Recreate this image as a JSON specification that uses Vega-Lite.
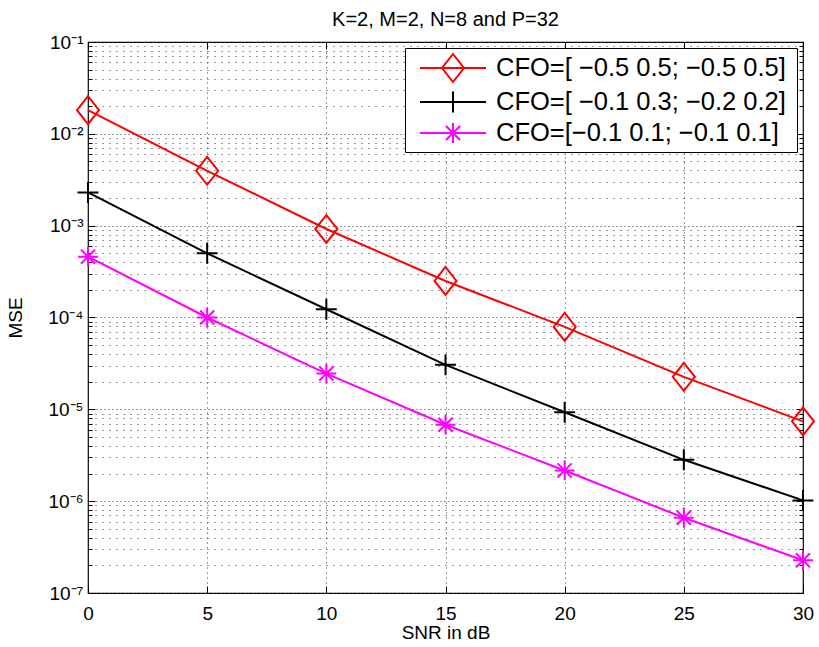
{
  "$schema": "https://vega.github.io/schema/vega-lite/v6.json",
  "autosize": {"type": "none"},
  "width": 715,
  "height": 551,
  "padding": {"left": 88, "top": 42, "right": 16, "bottom": 54},
  "background": "white",
  "title": {"text": "K=2, M=2, N=8 and P=32", "fontSize": 20, "font": "Liberation Sans", "fontWeight": "normal", "color": "#000", "offset": 3},
  "config": {"view": {"stroke": "#000", "strokeWidth": 1.2}, "font": "Liberation Sans"},
  "data": {
    "values": [
      {"snr": 0, "mse": 0.0181, "series": "CFO=[ −0.5 0.5; −0.5 0.5]"},
      {"snr": 5, "mse": 0.00396, "series": "CFO=[ −0.5 0.5; −0.5 0.5]"},
      {"snr": 10, "mse": 0.00092, "series": "CFO=[ −0.5 0.5; −0.5 0.5]"},
      {"snr": 15, "mse": 0.00025, "series": "CFO=[ −0.5 0.5; −0.5 0.5]"},
      {"snr": 20, "mse": 0.000079, "series": "CFO=[ −0.5 0.5; −0.5 0.5]"},
      {"snr": 25, "mse": 0.0000226, "series": "CFO=[ −0.5 0.5; −0.5 0.5]"},
      {"snr": 30, "mse": 0.0000074, "series": "CFO=[ −0.5 0.5; −0.5 0.5]"},
      {"snr": 0, "mse": 0.0023, "series": "CFO=[ −0.1 0.3;  −0.2 0.2]"},
      {"snr": 5, "mse": 0.0005, "series": "CFO=[ −0.1 0.3;  −0.2 0.2]"},
      {"snr": 10, "mse": 0.000123, "series": "CFO=[ −0.1 0.3;  −0.2 0.2]"},
      {"snr": 15, "mse": 0.0000305, "series": "CFO=[ −0.1 0.3;  −0.2 0.2]"},
      {"snr": 20, "mse": 0.0000093, "series": "CFO=[ −0.1 0.3;  −0.2 0.2]"},
      {"snr": 25, "mse": 0.00000282, "series": "CFO=[ −0.1 0.3;  −0.2 0.2]"},
      {"snr": 30, "mse": 0.00000102, "series": "CFO=[ −0.1 0.3;  −0.2 0.2]"},
      {"snr": 0, "mse": 0.00046, "series": "CFO=[−0.1 0.1; −0.1 0.1]"},
      {"snr": 5, "mse": 0.0001, "series": "CFO=[−0.1 0.1; −0.1 0.1]"},
      {"snr": 10, "mse": 0.0000245, "series": "CFO=[−0.1 0.1; −0.1 0.1]"},
      {"snr": 15, "mse": 0.0000068, "series": "CFO=[−0.1 0.1; −0.1 0.1]"},
      {"snr": 20, "mse": 0.00000216, "series": "CFO=[−0.1 0.1; −0.1 0.1]"},
      {"snr": 25, "mse": 0.00000066, "series": "CFO=[−0.1 0.1; −0.1 0.1]"},
      {"snr": 30, "mse": 0.000000227, "series": "CFO=[−0.1 0.1; −0.1 0.1]"}
    ]
  },
  "encoding": {
    "x": {"field": "snr", "type": "quantitative", "scale": {"domain": [0, 30], "nice": false, "zero": false}},
    "y": {"field": "mse", "type": "quantitative", "scale": {"type": "log", "domain": [1e-7, 0.1], "nice": false}},
    "color": {"field": "series", "type": "nominal", "scale": {"domain": ["CFO=[ −0.5 0.5; −0.5 0.5]", "CFO=[ −0.1 0.3;  −0.2 0.2]", "CFO=[−0.1 0.1; −0.1 0.1]"], "range": ["#ff0000", "#000000", "#ff00ff"]}}
  },
  "layer": [
    {
      "mark": {"type": "line", "strokeWidth": 2},
      "encoding": {
        "x": {
          "field": "snr", "type": "quantitative",
          "axis": {
            "orient": "bottom", "values": [0, 5, 10, 15, 20, 25, 30], "format": "d", "labelFlush": false,
            "grid": true, "gridColor": "#333", "gridDash": [1, 4], "gridWidth": 1,
            "domain": false, "tickSize": -7, "tickColor": "#000", "tickWidth": 1,
            "labelFontSize": 19, "labelColor": "#000", "labelPadding": 18, "labelFont": "Liberation Sans",
            "title": "SNR in dB", "titleFontSize": 19, "titleFontWeight": "normal", "titleColor": "#000", "titleFont": "Liberation Sans", "titlePadding": 0
          }
        },
        "y": {
          "field": "mse", "type": "quantitative",
          "axis": {
            "orient": "left", "labelFlush": false,
            "values": [1e-7, 2e-7, 3e-7, 4e-7, 5e-7, 6e-7, 7e-7, 8e-7, 9e-7, 1e-6, 2e-6, 3e-6, 4e-6, 5e-6, 6e-6, 7e-6, 8e-6, 9e-6, 1e-5, 2e-5, 3e-5, 4e-5, 5e-5, 6e-5, 7e-5, 8e-5, 9e-5, 1e-4, 2e-4, 3e-4, 4e-4, 5e-4, 6e-4, 7e-4, 8e-4, 9e-4, 1e-3, 2e-3, 3e-3, 4e-3, 5e-3, 6e-3, 7e-3, 8e-3, 9e-3, 1e-2, 2e-2, 3e-2, 4e-2, 5e-2, 6e-2, 7e-2, 8e-2, 9e-2, 1e-1],
            "labelExpr": "abs(log(datum.value)/LN10 - round(log(datum.value)/LN10)) < 0.001 ? '10' + ['⁻⁷','⁻⁶','⁻⁵','⁻⁴','⁻³','⁻²','⁻¹'][round(log(datum.value)/LN10) + 7] : ''",
            "grid": true, "gridColor": "#333", "gridWidth": 1,
            "gridDash": {"condition": {"test": "abs(log(datum.value)/LN10 - round(log(datum.value)/LN10)) < 0.001", "value": [1, 3]}, "value": [1, 6]},
            "domain": false,
            "tickSize": {"condition": {"test": "abs(log(datum.value)/LN10 - round(log(datum.value)/LN10)) < 0.001", "value": -7}, "value": -4},
            "tickColor": "#000", "tickWidth": 1,
            "labelFontSize": 19, "labelColor": "#000", "labelPadding": 12, "labelFont": "Liberation Sans", "labelBaseline": "middle",
            "title": "MSE", "titleFontSize": 19, "titleFontWeight": "normal", "titleColor": "#000", "titleFont": "Liberation Sans", "titlePadding": 22
          }
        },
        "color": {
          "field": "series", "type": "nominal",
          "legend": {
            "title": null, "orient": "top-right", "offset": 6,
            "labelFontSize": 25.5, "labelFont": "Liberation Sans", "labelColor": "#000", "labelLimit": 600, "labelOffset": 55,
            "strokeColor": "#000", "fillColor": "#fff", "padding": 4, "cornerRadius": 0,
            "symbolSize": 900, "symbolStrokeWidth": 2, "symbolOpacity": 1, "rowPadding": 0
          }
        }
      }
    },
    {
      "transform": [{"filter": {"field": "series", "equal": "CFO=[ −0.5 0.5; −0.5 0.5]"}}],
      "mark": {"type": "point", "shape": "M0,-1.27L1,0L0,1.27L-1,0Z", "filled": false, "strokeWidth": 2, "size": 484, "opacity": 1},
      "encoding": {
        "x": {
          "field": "snr", "type": "quantitative",
          "axis": {"orient": "top", "values": [0, 5, 10, 15, 20, 25, 30], "labels": false, "grid": false, "domain": false, "tickSize": -7, "tickColor": "#000", "title": null}
        },
        "y": {
          "field": "mse", "type": "quantitative",
          "axis": {
            "orient": "right",
            "values": [1e-7, 2e-7, 3e-7, 4e-7, 5e-7, 6e-7, 7e-7, 8e-7, 9e-7, 1e-6, 2e-6, 3e-6, 4e-6, 5e-6, 6e-6, 7e-6, 8e-6, 9e-6, 1e-5, 2e-5, 3e-5, 4e-5, 5e-5, 6e-5, 7e-5, 8e-5, 9e-5, 1e-4, 2e-4, 3e-4, 4e-4, 5e-4, 6e-4, 7e-4, 8e-4, 9e-4, 1e-3, 2e-3, 3e-3, 4e-3, 5e-3, 6e-3, 7e-3, 8e-3, 9e-3, 1e-2, 2e-2, 3e-2, 4e-2, 5e-2, 6e-2, 7e-2, 8e-2, 9e-2, 1e-1],
            "labels": false, "grid": false, "domain": false,
            "tickSize": {"condition": {"test": "abs(log(datum.value)/LN10 - round(log(datum.value)/LN10)) < 0.001", "value": -7}, "value": -4},
            "tickColor": "#000", "title": null
          }
        }
      }
    },
    {
      "transform": [{"filter": {"field": "series", "equal": "CFO=[ −0.1 0.3;  −0.2 0.2]"}}],
      "mark": {"type": "point", "shape": "M-0.95,0L0.95,0M0,-0.95L0,0.95", "filled": false, "strokeWidth": 2, "size": 484, "opacity": 1},
      "encoding": {
        "x": {"field": "snr", "type": "quantitative", "axis": null},
        "y": {"field": "mse", "type": "quantitative", "axis": null}
      }
    },
    {
      "transform": [{"filter": {"field": "series", "equal": "CFO=[−0.1 0.1; −0.1 0.1]"}}],
      "mark": {"type": "point", "shape": "M-0.9,0L0.9,0M0,-0.9L0,0.9M-0.64,-0.64L0.64,0.64M-0.64,0.64L0.64,-0.64", "filled": false, "strokeWidth": 2, "size": 484, "opacity": 1},
      "encoding": {
        "x": {"field": "snr", "type": "quantitative", "axis": null},
        "y": {"field": "mse", "type": "quantitative", "axis": null}
      }
    },
    {
      "mark": {"type": "point", "filled": false, "strokeWidth": 2, "size": 4, "opacity": 0},
      "encoding": {
        "x": {"field": "snr", "type": "quantitative", "axis": null},
        "y": {"field": "mse", "type": "quantitative", "axis": null},
        "shape": {
          "field": "series", "type": "nominal",
          "scale": {"domain": ["CFO=[ −0.5 0.5; −0.5 0.5]", "CFO=[ −0.1 0.3;  −0.2 0.2]", "CFO=[−0.1 0.1; −0.1 0.1]"], "range": ["M-0.333,0L4.067,0M1.867,-0.933L2.6,0L1.867,0.933L1.133,0Z", "M-0.333,0L4.067,0M1.867,-0.7L1.867,0.7", "M-0.333,0L4.067,0M1.867,-0.67L1.867,0.67M1.397,-0.47L2.337,0.47M1.397,0.47L2.337,-0.47"]}
        }
      }
    }
  ],
  "resolve": {"axis": {"x": "independent", "y": "independent"}}
}
